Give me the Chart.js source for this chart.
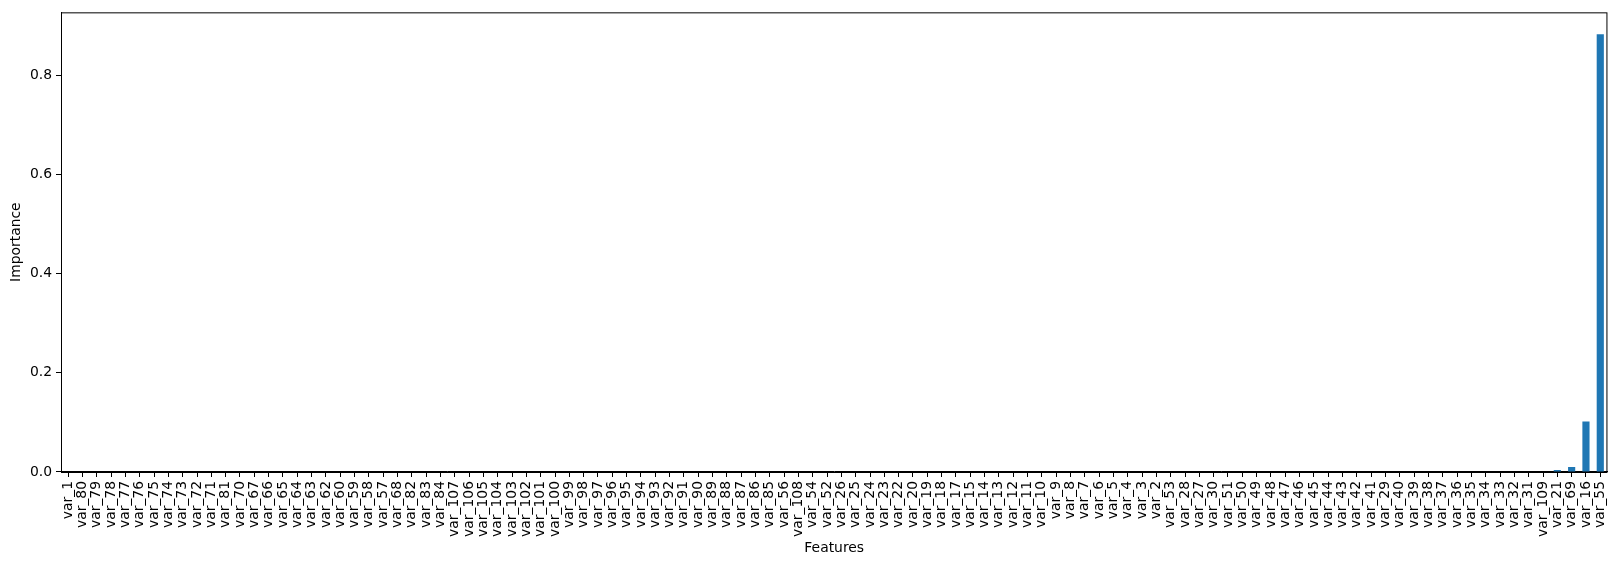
<!DOCTYPE html>
<html>
<head>
<meta charset="utf-8">
<script src="https://cdn.jsdelivr.net/npm/chart.js@4.4.1/dist/chart.umd.min.js"></script>
<style>
    body { margin: 0; background: #fff; }
    canvas { display: block; }
</style>
</head>
<body>
<canvas id="chart" width="1621" height="567"></canvas>
<script>
// feature names, in the order they appear on the x axis
const features = [
    'var_1', 'var_80', 'var_79', 'var_78', 'var_77', 'var_76', 'var_75', 'var_74', 'var_73', 'var_72',
    'var_71', 'var_81', 'var_70', 'var_67', 'var_66', 'var_65', 'var_64', 'var_63', 'var_62', 'var_60',
    'var_59', 'var_58', 'var_57', 'var_68', 'var_82', 'var_83', 'var_84', 'var_107', 'var_106', 'var_105',
    'var_104', 'var_103', 'var_102', 'var_101', 'var_100', 'var_99', 'var_98', 'var_97', 'var_96', 'var_95',
    'var_94', 'var_93', 'var_92', 'var_91', 'var_90', 'var_89', 'var_88', 'var_87', 'var_86', 'var_85',
    'var_56', 'var_108', 'var_54', 'var_52', 'var_26', 'var_25', 'var_24', 'var_23', 'var_22', 'var_20',
    'var_19', 'var_18', 'var_17', 'var_15', 'var_14', 'var_13', 'var_12', 'var_11', 'var_10', 'var_9',
    'var_8', 'var_7', 'var_6', 'var_5', 'var_4', 'var_3', 'var_2', 'var_53', 'var_28', 'var_27',
    'var_30', 'var_51', 'var_50', 'var_49', 'var_48', 'var_47', 'var_46', 'var_45', 'var_44', 'var_43',
    'var_42', 'var_41', 'var_29', 'var_40', 'var_39', 'var_38', 'var_37', 'var_36', 'var_35', 'var_34',
    'var_33', 'var_32', 'var_31', 'var_109', 'var_21', 'var_69', 'var_16', 'var_55'
];

// importance per feature (all flat except the last four)
const importance = [
    0, 0, 0, 0, 0, 0, 0, 0, 0, 0,
    0, 0, 0, 0, 0, 0, 0, 0, 0, 0,
    0, 0, 0, 0, 0, 0, 0, 0, 0, 0,
    0, 0, 0, 0, 0, 0, 0, 0, 0, 0,
    0, 0, 0, 0, 0, 0, 0, 0, 0, 0,
    0, 0, 0, 0, 0, 0, 0, 0, 0, 0,
    0, 0, 0, 0, 0, 0, 0, 0, 0, 0,
    0, 0, 0, 0, 0, 0, 0, 0, 0, 0,
    0, 0, 0, 0, 0, 0, 0, 0, 0, 0,
    0, 0, 0, 0, 0, 0, 0, 0, 0, 0,
    0, 0, 0, 0, 0.004, 0.010, 0.102, 0.883
];

const yTicks = [0, 0.2, 0.4, 0.6, 0.8];

const font = { family: 'DejaVu Sans', size: 13.9 };

// matplotlib style box around the plot area
const frame = {
    id: 'frame',
    afterDraw(chart) {
        const { ctx, chartArea: a } = chart;
        ctx.save();
        ctx.strokeStyle = '#000';
        ctx.lineWidth = 1;
        ctx.strokeRect(a.left + 0.5, a.top + 0.5, a.right - a.left - 1, a.bottom - a.top);
        ctx.restore();
    }
};

const config = {
    type: 'bar',
    data: {
        labels: features,
        datasets: [{
            data: importance,
            backgroundColor: '#1f77b4',
            borderWidth: 0,
            barPercentage: 0.5,
            categoryPercentage: 1.0
        }]
    },
    options: {
        responsive: false,
        animation: false,
        layout: {
            padding: { top: 10, right: 9, bottom: 0, left: 0 }
        },
        plugins: {
            legend: { display: false },
            tooltip: { enabled: false }
        },
        scales: {
            x: {
                offset: true,
                grid: {
                    offset: false,
                    drawOnChartArea: false,
                    drawTicks: true,
                    tickLength: 5,
                    color: '#000'
                },
                border: { color: '#000', width: 1 },
                ticks: {
                    autoSkip: false,
                    minRotation: 90,
                    maxRotation: 90,
                    padding: 4,
                    color: '#000',
                    font: font
                },
                title: {
                    display: true,
                    text: 'Features',
                    color: '#000',
                    font: font,
                    padding: { top: 0, bottom: 10 }
                },
                afterFit(scale) {
                    scale.height = 95;
                }
            },
            y: {
                min: 0,
                max: 0.9272,
                grid: {
                    drawOnChartArea: false,
                    drawTicks: true,
                    tickLength: 5,
                    color: '#000'
                },
                border: { color: '#000', width: 1 },
                afterBuildTicks(scale) {
                    scale.ticks = yTicks.map(v => ({ value: v }));
                },
                ticks: {
                    padding: 4,
                    color: '#000',
                    font: font,
                    callback: v => Number(v).toFixed(1)
                },
                title: {
                    display: true,
                    text: 'Importance',
                    color: '#000',
                    font: font,
                    padding: { top: 8, bottom: 0 }
                },
                afterFit(scale) {
                    scale.width = 61;
                }
            }
        }
    },
    plugins: [frame]
};

window.onload = () => {
    let ctx = document.getElementById('chart').getContext('2d');
    window.myChart = new Chart(ctx, config);
};
</script>
</body>
</html>
